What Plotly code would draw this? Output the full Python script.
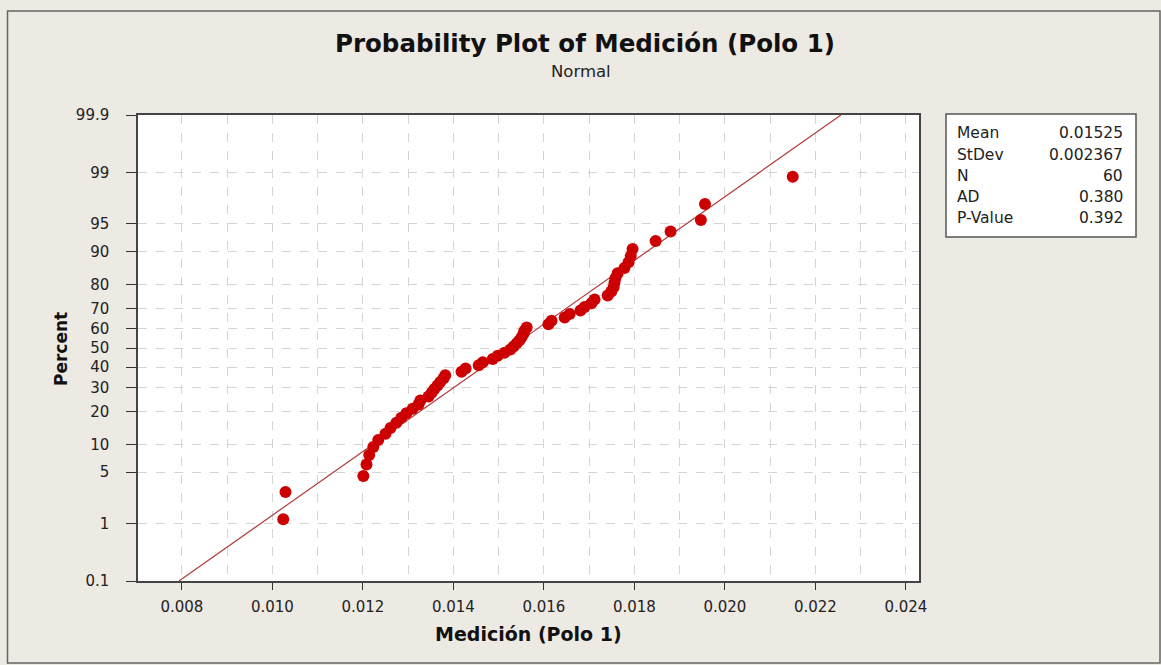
import plotly.graph_objects as go
from statistics import NormalDist

# ---- data ----
medicion = [
    0.01024, 0.01029, 0.01201, 0.01208, 0.01214, 0.01223, 0.01234, 0.01250, 0.01261, 0.01274,
    0.01285, 0.01296, 0.01310, 0.01323, 0.01327, 0.01345, 0.01352, 0.01358, 0.01365, 0.01371,
    0.01378, 0.01382, 0.01418, 0.01427, 0.01456, 0.01465, 0.01487, 0.01498, 0.01513, 0.01526,
    0.01533, 0.01540, 0.01546, 0.01551, 0.01555, 0.01557, 0.01562, 0.01610, 0.01617, 0.01646,
    0.01657, 0.01681, 0.01690, 0.01705, 0.01712, 0.01741, 0.01749, 0.01754, 0.01756, 0.01758,
    0.01763, 0.01778, 0.01787, 0.01792, 0.01796, 0.01847, 0.01880, 0.01947, 0.01956, 0.02150,
]
stat_names = ["Mean", "StDev", "N", "AD", "P-Value"]
stat_values = ["0.01525", "0.002367", "60", "0.380", "0.392"]
fit_mean = 0.01525
fit_stdev = 0.002367
fit_percent = [0.1, 99.9]

x_tickvals = [0.008, 0.010, 0.012, 0.014, 0.016, 0.018, 0.020, 0.022, 0.024]
x_ticktext = ["0.008", "0.010", "0.012", "0.014", "0.016", "0.018", "0.020", "0.022", "0.024"]
y_tick_percent = [0.1, 1, 5, 10, 20, 30, 40, 50, 60, 70, 80, 90, 95, 99, 99.9]
y_ticktext = ["0.1", "1", "5", "10", "20", "30", "40", "50", "60", "70", "80", "90", "95", "99", "99.9"]

# ---- probability scale (normal) ----
nd = NormalDist()
n = len(medicion)
ranks = list(range(1, n + 1))
percent = [(i - 0.3) / (n + 0.4) * 100 for i in ranks]  # median ranks (Benard)
z_pts = [nd.inv_cdf(p / 100) for p in percent]
z_fit = [nd.inv_cdf(p / 100) for p in fit_percent]
x_fit = [fit_mean + fit_stdev * z for z in z_fit]
y_tickvals = [nd.inv_cdf(p / 100) for p in y_tick_percent]

FONT = "DejaVu Sans"
BG = "#EDE9E3"

fig = go.Figure()
fig.add_trace(go.Scatter(x=x_fit, y=z_fit, mode="lines",
                         line=dict(color="#B03A3A", width=1.2), hoverinfo="skip"))
fig.add_trace(go.Scatter(x=medicion, y=z_pts, mode="markers",
                         marker=dict(color="#CC0000", size=12, symbol="circle",
                                     line=dict(width=0)),
                         customdata=percent,
                         hovertemplate="%{x}<br>%{customdata:.2f}%<extra></extra>"))

L, R, T, B = 138, 919, 115, 581
W, H = 1161, 665
pw, ph = R - L, B - T

def px(xp):
    return (xp - L) / pw

def py(yp):
    return (B - yp) / ph

grid = dict(gridcolor="#D4D4D4", griddash="dash", gridwidth=1)

fig.update_layout(
    width=W, height=H, autosize=False,
    margin=dict(l=L, r=W - R, t=T, b=H - B, pad=0),
    paper_bgcolor=BG, plot_bgcolor="white",
    showlegend=False,
    font=dict(family=FONT, color="#222222"),
    xaxis=dict(range=[0.00703, 0.02429], tickmode="array", tickvals=x_tickvals,
               ticktext=x_ticktext, ticks="outside", ticklen=7, tickcolor="#333",
               tickfont=dict(size=15, family=FONT, color="#222"),
               showline=True, linecolor="#444", linewidth=1.5, mirror=True,
               showgrid=True, zeroline=False, ticklabelstandoff=4,
               minor=dict(dtick=0.001, tick0=0.008, showgrid=True, ticks="", **grid),
               **grid),
    yaxis=dict(range=[z_fit[0], z_fit[1]], tickmode="array", tickvals=y_tickvals,
               ticktext=y_ticktext, ticks="outside", ticklen=10, tickcolor="#333",
               tickfont=dict(size=15, family=FONT, color="#222"),
               showline=True, linecolor="#444", linewidth=1.5, mirror=True,
               showgrid=True, zeroline=False, ticklabelstandoff=14,
               **grid),
)

ann = []
ann.append(dict(text="<b>Probability Plot of Medición (Polo 1)</b>", x=px(585), y=py(43),
                xref="paper", yref="paper", showarrow=False, xanchor="center", yanchor="middle",
                font=dict(size=24.5, family=FONT, color="#111")))
ann.append(dict(text="Normal", x=px(581), y=py(71), xref="paper", yref="paper",
                showarrow=False, xanchor="center", yanchor="middle",
                font=dict(size=16.5, family=FONT, color="#222")))
ann.append(dict(text="<b>Medición (Polo 1)</b>", x=px(528), y=py(634), xref="paper", yref="paper",
                showarrow=False, xanchor="center", yanchor="middle",
                font=dict(size=19, family=FONT, color="#111")))
ann.append(dict(text="<b>Percent</b>", x=px(61), y=py(349), xref="paper", yref="paper",
                showarrow=False, xanchor="center", yanchor="middle", textangle=-90,
                font=dict(size=17, family=FONT, color="#111")))
row_y = [133, 155, 176, 197, 218]
for name, val, yy in zip(stat_names, stat_values, row_y):
    ann.append(dict(text=name, x=px(955), y=py(yy), xref="paper", yref="paper",
                    showarrow=False, xanchor="left", yanchor="middle",
                    font=dict(size=15.5, family=FONT, color="#222")))
    ann.append(dict(text=val, x=px(1125), y=py(yy), xref="paper", yref="paper",
                    showarrow=False, xanchor="right", yanchor="middle",
                    font=dict(size=15.5, family=FONT, color="#222")))
fig.update_layout(annotations=ann)

fig.add_shape(type="rect", xref="paper", yref="paper",
              x0=px(946), x1=px(1136), y0=py(237), y1=py(114),
              fillcolor="white", line=dict(color="#555", width=1.5), layer="below")
fig.add_shape(type="rect", xref="paper", yref="paper",
              x0=px(7.5), x1=px(1160), y0=py(663), y1=py(11),
              fillcolor="rgba(0,0,0,0)", line=dict(color="#666", width=1.5), layer="below")

fig.write_html("out.html")
